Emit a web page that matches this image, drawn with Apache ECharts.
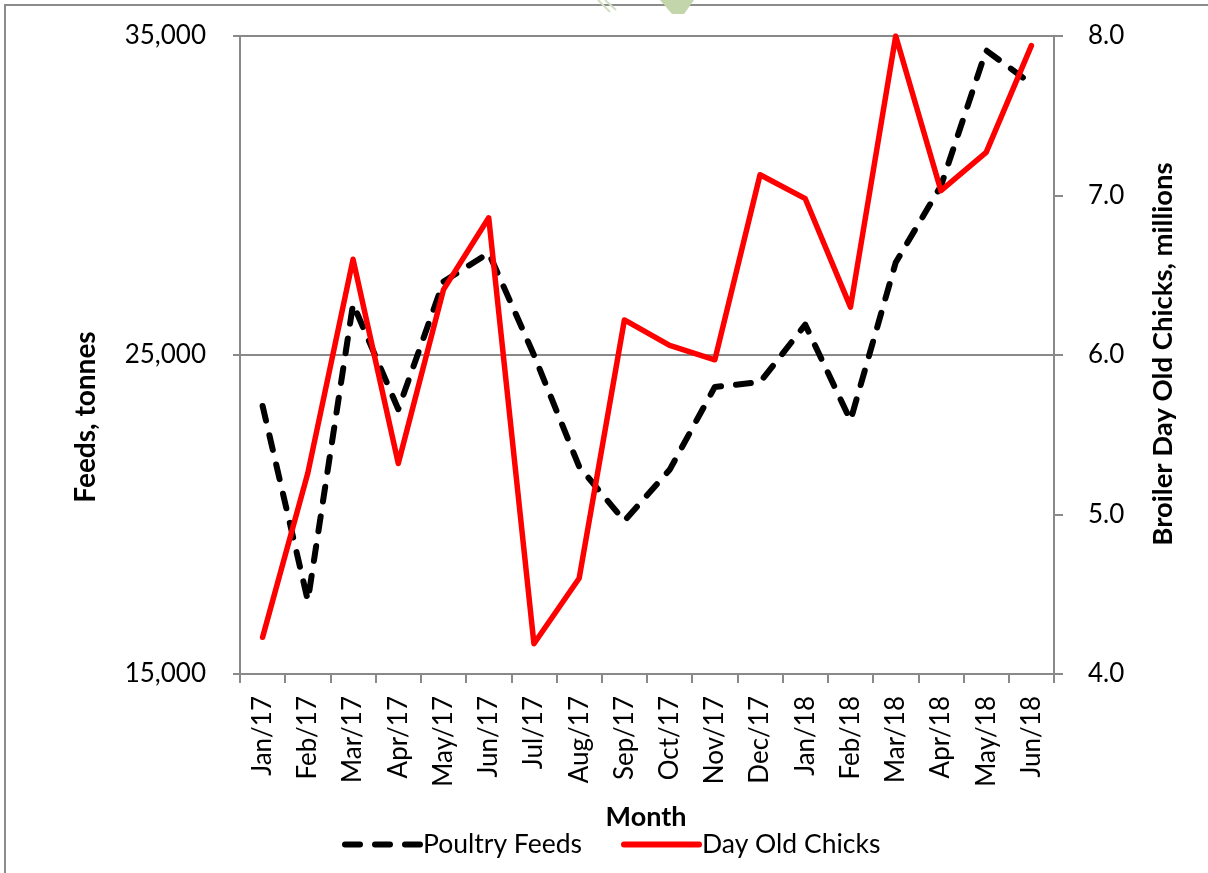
<!DOCTYPE html>
<html>
<head>
<meta charset="utf-8">
<script src="https://cdn.jsdelivr.net/npm/echarts@6/dist/echarts.min.js"></script>
<style>
html,body{margin:0;padding:0;background:#fff;}
#chart{width:1208px;height:873px;}
</style>
</head>
<body>
<div id="chart"></div>
<script>
const months = ['Jan/17','Feb/17','Mar/17','Apr/17','May/17','Jun/17','Jul/17','Aug/17','Sep/17','Oct/17','Nov/17','Dec/17','Jan/18','Feb/18','Mar/18','Apr/18','May/18','Jun/18'];
const poultryFeeds = [23400, 17300, 26600, 23300, 27300, 28200, 25000, 21500, 19800, 21400, 24000, 24150, 25950, 22950, 27900, 30300, 34550, 33500];
const dayOldChicks = [4.23, 5.26, 6.60, 5.32, 6.41, 6.86, 4.19, 4.60, 6.22, 6.06, 5.97, 7.13, 6.98, 6.30, 8.00, 7.03, 7.27, 7.94];
const seriesNames = ['Poultry Feeds', 'Day Old Chicks'];
const leftAxisTitle = 'Feeds, tonnes';
const rightAxisTitle = 'Broiler Day Old Chicks, millions';
const xAxisTitle = 'Month';

const FONT = 'Lato';
const GRAY = '#898989';

const chart = echarts.init(document.getElementById('chart'), null, {renderer: 'canvas'});
chart.setOption({
  animation: false,
  backgroundColor: '#fff',
  textStyle: {fontFamily: FONT},
  grid: {left: 240, right: 154, top: 36, bottom: 199, containLabel: false},
  legend: {
    left: 337, top: 826,
    itemWidth: 75, itemHeight: 16, itemGap: 39,
    itemStyle: {opacity: 0},
    lineStyle: {width: 6, cap: 'round'},
    textStyle: {fontFamily: FONT, fontSize: 26.5, color: '#000', padding: [0, 0, 0, -2]},
    data: seriesNames
  },
  xAxis: {
    type: 'category',
    data: months,
    boundaryGap: true,
    axisLine: {lineStyle: {color: GRAY, width: 2}},
    axisTick: {show: true, interval: 0, length: 9, lineStyle: {color: GRAY, width: 2}},
    axisLabel: {interval: 0, rotate: 90, margin: 22, fontSize: 26, color: '#000', fontFamily: FONT},
    splitLine: {show: false}
  },
  yAxis: [
    {
      type: 'value', min: 15000, max: 35000, interval: 10000, position: 'left',
      axisLine: {show: true, lineStyle: {color: GRAY, width: 2}},
      axisTick: {show: true, length: 7, lineStyle: {color: GRAY, width: 2}},
      axisLabel: {fontSize: 26, color: '#000', margin: 34, fontFamily: FONT,
        formatter: v => v.toLocaleString('en-US')},
      splitLine: {show: true, lineStyle: {color: GRAY, width: 2}}
    },
    {
      type: 'value', min: 4, max: 8, interval: 1, position: 'right',
      axisLine: {show: true, lineStyle: {color: GRAY, width: 2}},
      axisTick: {show: true, length: 9, lineStyle: {color: GRAY, width: 2}},
      axisLabel: {fontSize: 26, color: '#000', margin: 34, fontFamily: FONT,
        formatter: v => v.toFixed(1)},
      splitLine: {show: false}
    }
  ],
  series: [
    {
      name: seriesNames[0], type: 'line', yAxisIndex: 0, data: poultryFeeds,
      symbol: 'none', showSymbol: false,
      lineStyle: {color: '#000', width: 6, type: [15, 15], cap: 'round', join: 'round'},
      itemStyle: {color: '#000'}, z: 2
    },
    {
      name: seriesNames[1], type: 'line', yAxisIndex: 1, data: dayOldChicks,
      symbol: 'none', showSymbol: false,
      lineStyle: {color: '#ff0000', width: 5.5, cap: 'round', join: 'round'},
      itemStyle: {color: '#ff0000'}, z: 3
    }
  ],
  graphic: [
    {type: 'rect', silent: true, shape: {x: 5, y: 5, width: 1400, height: 1000},
     style: {fill: 'none', stroke: '#8c8c8c', lineWidth: 2}},
    {type: 'polygon', silent: true, shape: {points: [[660, 0], [694, 0], [684, 14], [672, 14]]},
     style: {fill: '#c3d5ab'}},
    {type: 'polyline', silent: true, shape: {points: [[598, 0], [610, 12]]},
     style: {stroke: '#d3e0c2', lineWidth: 2, fill: 'none'}},
    {type: 'polyline', silent: true, shape: {points: [[605, 0], [616, 10]]},
     style: {stroke: '#d3e0c2', lineWidth: 2, fill: 'none'}},
    {type: 'text', silent: true, x: 86, y: 417, rotation: Math.PI / 2,
     style: {text: leftAxisTitle, font: 'bold 28px ' + FONT, fill: '#000', textAlign: 'center', textVerticalAlign: 'middle'}},
    {type: 'text', silent: true, x: 1163, y: 354, rotation: Math.PI / 2,
     style: {text: rightAxisTitle, font: 'bold 27.5px ' + FONT, fill: '#000', textAlign: 'center', textVerticalAlign: 'middle'}},
    {type: 'text', silent: true, x: 646, y: 817,
     style: {text: xAxisTitle, font: 'bold 27px ' + FONT, fill: '#000', textAlign: 'center', textVerticalAlign: 'middle'}}
  ]
});
</script>
</body>
</html>
